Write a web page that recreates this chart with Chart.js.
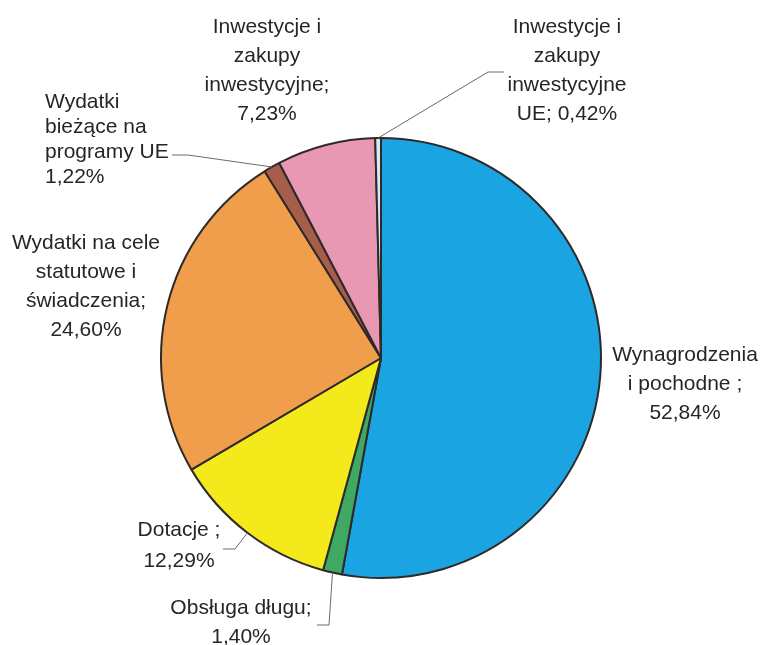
<!DOCTYPE html>
<html>
<head>
<meta charset="utf-8">
<script src="https://cdn.jsdelivr.net/npm/chart.js@4/dist/chart.umd.min.js"></script>
<style>
html,body{margin:0;padding:0;background:#fff;}
#wrap{width:760px;height:645px;}
</style>
</head>
<body>
<div id="wrap"><canvas id="c" width="760" height="645"></canvas></div>
<script>
// ---- data ----
const categories = [
  "Wynagrodzenia i pochodne",
  "Obsługa długu",
  "Dotacje",
  "Wydatki na cele statutowe i świadczenia",
  "Wydatki bieżące na programy UE",
  "Inwestycje i zakupy inwestycyjne",
  "Inwestycje i zakupy inwestycyjne UE"
];
const values = [52.84, 1.40, 12.29, 24.60, 1.22, 7.23, 0.42];
// label lines; {v} is replaced by the formatted value
const labelLines = [
  ["Wynagrodzenia", "i pochodne ;", "{v}"],
  ["Obsługa długu;", "{v}"],
  ["Dotacje ;", "{v}"],
  ["Wydatki na cele", "statutowe i", "świadczenia;", "{v}"],
  ["Wydatki", "bieżące na", "programy UE", "{v}"],
  ["Inwestycje i", "zakupy", "inwestycyjne;", "{v}"],
  ["Inwestycje i", "zakupy", "inwestycyjne", "UE; {v}"]
];
const colors = ["#1aa5e2", "#3fa963", "#f4e91a", "#f09e4b", "#a65e4b", "#e998b4", "#d4eaf7"];

// ---- label layout (positions only) ----
const labelLayout = [
  {x: 685, y: 355, lh: 29, align: "center"},
  {x: 241, y: 608, lh: 29, align: "center", leader: [[317, 625], [329, 625]]},
  {x: 179, y: 530, lh: 31, align: "center", leader: [[223, 549], [235, 549]]},
  {x: 86,  y: 243, lh: 29, align: "center"},
  {x: 45,  y: 102, lh: 25, align: "left", leader: [[172, 155], [188, 155]]},
  {x: 267, y: 27,  lh: 29, align: "center"},
  {x: 567, y: 27,  lh: 29, align: "center", leader: [[504, 72], [488, 72]]}
];

function fmt(v){ return v.toFixed(2).replace(".", ",") + "%"; }

const labelPlugin = {
  id: "pieLabels",
  afterDraw(chart){
    const ctx = chart.ctx;
    const meta = chart.getDatasetMeta(0);
    ctx.save();
    meta.data.forEach((arc, i) => {
      const L = labelLayout[i];
      const p = arc.getProps(["x","y","startAngle","endAngle","outerRadius"], true);
      if (L.leader){
        const mid = (p.startAngle + p.endAngle) / 2;
        const ax = p.x + Math.cos(mid) * p.outerRadius;
        const ay = p.y + Math.sin(mid) * p.outerRadius;
        ctx.beginPath();
        ctx.strokeStyle = "#6a6a6a";
        ctx.lineWidth = 1;
        ctx.moveTo(L.leader[0][0], L.leader[0][1]);
        for (let k = 1; k < L.leader.length; k++) ctx.lineTo(L.leader[k][0], L.leader[k][1]);
        ctx.lineTo(ax, ay);
        ctx.stroke();
      }
      ctx.fillStyle = "#262626";
      ctx.font = '21px "Liberation Sans", Arial, sans-serif';
      ctx.textAlign = L.align;
      ctx.textBaseline = "middle";
      labelLines[i].forEach((line, k) => {
        ctx.fillText(line.replace("{v}", fmt(values[i])), L.x, L.y + k * L.lh);
      });
    });
    ctx.restore();
  }
};

new Chart(document.getElementById("c"), {
  type: "pie",
  data: {
    labels: categories,
    datasets: [{
      data: values,
      backgroundColor: colors,
      borderColor: "#2e2a2a",
      borderWidth: 2,
      radius: 220
    }]
  },
  options: {
    responsive: false,
    animation: false,
    layout: {padding: {left: 2, right: 0, top: 71, bottom: 0}},
    plugins: {legend: {display: false}, tooltip: {enabled: false}}
  },
  plugins: [labelPlugin]
});
</script>
</body>
</html>
